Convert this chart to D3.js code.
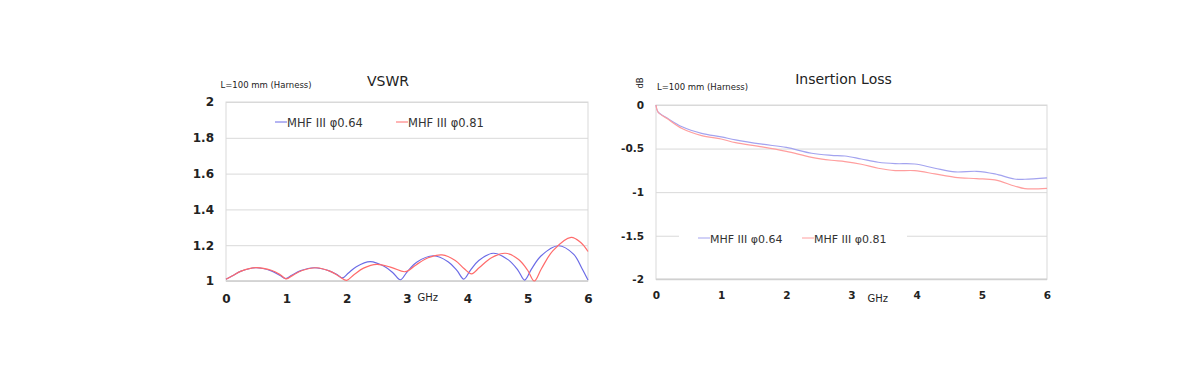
<!DOCTYPE html>
<html><head><meta charset="utf-8">
<script src="https://cdn.jsdelivr.net/npm/d3@7"></script>
<style>
body{margin:0;background:#fff;}
svg{display:block;font-family:"DejaVu Sans",Verdana,sans-serif;}
</style></head>
<body><svg id="c" width="1200" height="392"></svg>
<script>
// ---- Data ----
const seriesNames = ["MHF III φ0.64", "MHF III φ0.81"];
const xTicks = [0, 1, 2, 3, 4, 5, 6];
const vswrTicks = [1, 1.2, 1.4, 1.6, 1.8, 2];
const vswrTickLabels = ["1", "1.2", "1.4", "1.6", "1.8", "2"];
const ilTicks = [0, -0.5, -1, -1.5, -2];
const ilTickLabels = ["0", "-0.5", "-1", "-1.5", "-2"];

// VSWR, MHF III φ0.64: [GHz, VSWR]
const vswr064 = [
  [0,1.010],[0.1,1.028],[0.25,1.055],[0.49,1.074],[0.74,1.058],[0.89,1.032],[0.99,1.013],
  [1.09,1.032],[1.24,1.058],[1.46,1.074],[1.70,1.058],[1.84,1.036],[1.93,1.017],
  [2.03,1.045],[2.16,1.080],[2.39,1.108],[2.62,1.082],[2.77,1.045],[2.89,1.007],
  [3.0,1.050],[3.16,1.105],[3.44,1.141],[3.68,1.108],[3.83,1.058],[3.94,1.011],
  [4.05,1.060],[4.19,1.115],[4.43,1.155],[4.68,1.118],[4.84,1.060],[4.95,1.005],
  [5.06,1.065],[5.22,1.140],[5.51,1.197],[5.76,1.150],[5.9,1.070],[6.0,1.005]
];
// VSWR, MHF III φ0.81
const vswr081 = [
  [0,1.010],[0.1,1.028],[0.25,1.055],[0.5,1.075],[0.75,1.060],[0.9,1.035],[1.0,1.012],
  [1.1,1.030],[1.25,1.057],[1.5,1.074],[1.72,1.055],[1.88,1.025],[2.0,1.004],
  [2.12,1.035],[2.28,1.072],[2.5,1.093],[2.75,1.075],[2.97,1.052],
  [3.15,1.090],[3.35,1.130],[3.58,1.146],[3.8,1.115],[3.95,1.068],[4.07,1.040],
  [4.2,1.075],[4.4,1.130],[4.63,1.155],[4.85,1.120],[5.0,1.060],[5.11,1.000],
  [5.23,1.070],[5.42,1.170],[5.72,1.244],[5.88,1.215],[6.0,1.165]
];
// Insertion loss (dB), MHF III φ0.64
const il064 = [
  [0,0],[0.03,-0.08],[0.17,-0.15],[0.4,-0.25],[0.7,-0.325],[1.0,-0.365],[1.22,-0.40],
  [1.63,-0.45],[2.0,-0.487],[2.39,-0.554],[2.69,-0.577],[2.9,-0.585],[3.15,-0.62],
  [3.41,-0.657],[3.67,-0.673],[3.97,-0.677],[4.28,-0.726],[4.59,-0.768],[4.92,-0.761],
  [5.2,-0.791],[5.5,-0.849],[5.66,-0.852],[6.0,-0.837]
];
// Insertion loss (dB), MHF III φ0.81
const il081 = [
  [0,0],[0.03,-0.08],[0.17,-0.155],[0.4,-0.27],[0.7,-0.352],[1.0,-0.39],[1.22,-0.432],
  [1.63,-0.48],[2.0,-0.532],[2.39,-0.60],[2.69,-0.634],[2.9,-0.65],[3.15,-0.68],
  [3.41,-0.726],[3.67,-0.753],[3.97,-0.753],[4.28,-0.791],[4.59,-0.83],[4.92,-0.845],
  [5.2,-0.86],[5.5,-0.929],[5.66,-0.96],[6.0,-0.956]
];

const svg = d3.select("#c");
const gridCol = "#d9d9d9";

function panel(o) {
  const x = d3.scaleLinear().domain([0, 6]).range([o.left, o.right]);
  const y = d3.scaleLinear().domain(o.ydom).range([o.bottom, o.top]);
  const g = svg.append("g");
  // gridlines
  g.append("g").attr("transform", `translate(${o.left},0)`)
    .call(d3.axisLeft(y).tickValues(o.yTicks).tickSize(-(o.right - o.left)).tickFormat(""))
    .call(s => s.select(".domain").remove())
    .call(s => s.selectAll("line").attr("stroke", gridCol).attr("stroke-width", 1));
  // frame
  g.append("rect").attr("x", o.left).attr("y", o.top)
    .attr("width", o.right - o.left).attr("height", o.bottom - o.top)
    .attr("fill", "none").attr("stroke", gridCol).attr("stroke-width", 1);
  g.append("line").attr("x1", o.left).attr("x2", o.right).attr("y1", o.bottom).attr("y2", o.bottom)
    .attr("stroke", "#d0d0d0").attr("stroke-width", 1.5);
  // legend background (may hide gridline)
  if (o.legendBg) {
    g.append("rect").attr("x", o.legendBg[0]).attr("y", o.legendBg[1])
      .attr("width", o.legendBg[2]).attr("height", o.legendBg[3]).attr("fill", "#fff");
  }
  // y labels
  g.append("g").attr("transform", `translate(${o.yLabX},0)`)
    .call(d3.axisLeft(y).tickValues(o.yTicks).tickSize(0).tickPadding(0)
      .tickFormat((d, i) => o.yLabels[i]))
    .call(s => s.select(".domain").remove())
    .call(s => s.selectAll("text").attr("font-family", "DejaVu Sans").attr("font-weight", "bold")
      .attr("font-size", o.tickFont).attr("fill", "#222"));
  // x labels
  g.append("g").attr("transform", `translate(0,${o.xLabY})`)
    .call(d3.axisBottom(x).tickValues(xTicks).tickSize(0).tickPadding(0).tickFormat(d3.format("d")))
    .call(s => s.select(".domain").remove())
    .call(s => s.selectAll("text").attr("font-family", "DejaVu Sans").attr("font-weight", "bold")
      .attr("font-size", o.tickFont).attr("fill", "#222").attr("dy", "0.35em"));
  // lines
  const line = d3.line().x(d => x(d[0])).y(d => y(d[1])).curve(d3.curveCatmullRom.alpha(0.5));
  o.series.forEach((s, i) => {
    g.append("path").datum(s).attr("d", line).attr("fill", "none")
      .attr("stroke", o.colors[i]).attr("stroke-width", o.lw);
  });
  // legend
  o.legend.forEach((L, i) => {
    g.append("line").attr("x1", L[0]).attr("x2", L[0] + 12).attr("y1", o.legY - 1).attr("y2", o.legY - 1)
      .attr("stroke", o.legColors[i]).attr("stroke-width", 1);
    g.append("text").attr("x", L[0] + 12).attr("y", o.legY).attr("dy", "0.35em")
      .attr("font-size", o.legFont).attr("fill", "#333").text(seriesNames[i]);
  });
  // title & notes
  g.append("text").attr("x", o.titleX).attr("y", o.titleY).attr("dy", "0.35em")
    .attr("text-anchor", "middle").attr("font-size", 14).attr("fill", "#222").text(o.title);
  g.append("text").attr("x", o.noteX).attr("y", o.noteY).attr("dy", "0.35em")
    .attr("font-size", 8.5).attr("fill", "#222").text("L=100 mm (Harness)");
  g.append("text").attr("x", o.ghzX).attr("y", o.ghzY).attr("dy", "0.35em")
    .attr("font-size", 10).attr("fill", "#222").text("GHz");
  return g;
}

panel({
  left: 226, right: 588, top: 102, bottom: 281, ydom: [1, 2],
  yTicks: vswrTicks, yLabels: vswrTickLabels, yLabX: 214, xLabY: 298.5, tickFont: 12,
  series: [vswr064, vswr081], colors: ["#6b6be6", "#ff6b6b"], lw: 1.2,
  legend: [[275], [396]], legColors: ["#6b6be6", "#ff6b6b"], legY: 123, legFont: 11.5,
  title: "VSWR", titleX: 388, titleY: 81.5, noteX: 220.5, noteY: 85,
  ghzX: 417.5, ghzY: 297
});

const g2 = panel({
  left: 656, right: 1047, top: 105, bottom: 279.3, ydom: [-2, 0],
  yTicks: ilTicks, yLabels: ilTickLabels, yLabX: 644, xLabY: 295.5, tickFont: 10.5,
  series: [il064, il081], colors: ["#a3a3ef", "#ff9e9e"], lw: 1.2,
  legendBg: [679, 230, 228, 16],
  legend: [[698], [802]], legColors: ["#a3a3ef", "#ff9e9e"], legY: 239, legFont: 11,
  title: "Insertion Loss", titleX: 843.5, titleY: 79, noteX: 657, noteY: 87.5,
  ghzX: 867.5, ghzY: 298
});
g2.append("text").attr("transform", "translate(640,83) rotate(-90)").attr("dy", "0.35em")
  .attr("text-anchor", "middle").attr("font-size", 8.5).attr("fill", "#222").text("dB");
</script></body></html>
